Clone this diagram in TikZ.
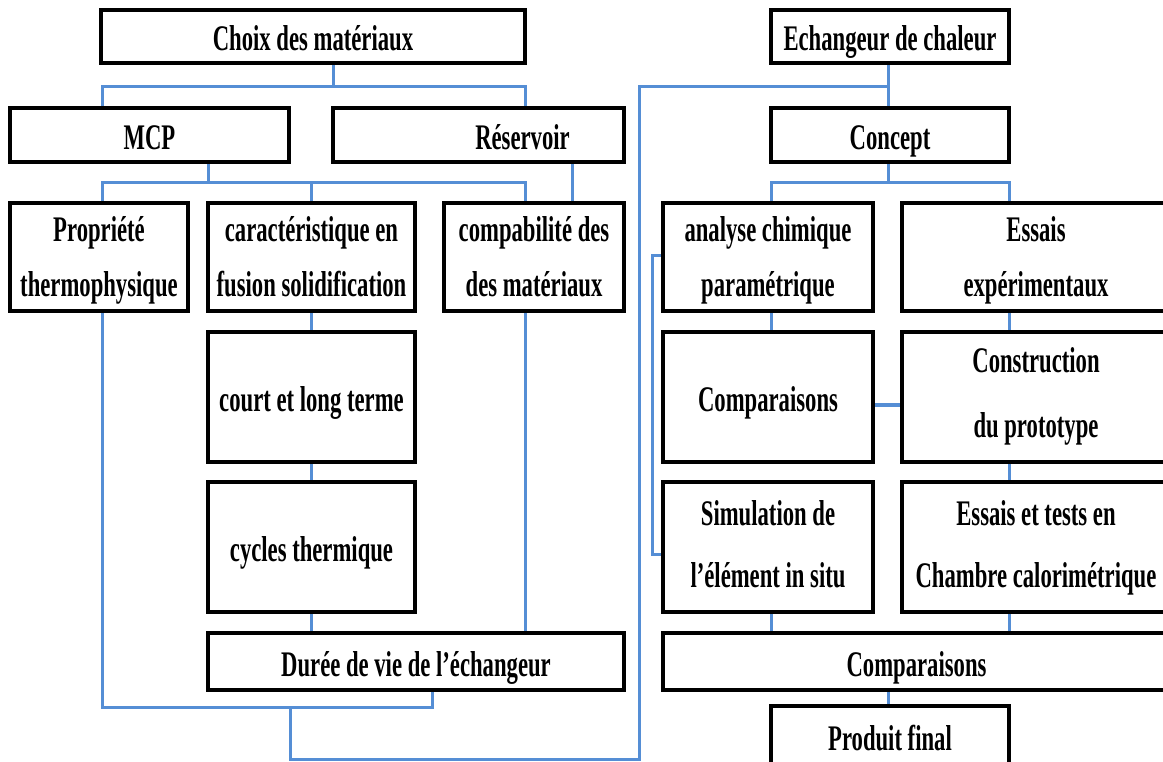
\documentclass[tikz,border=0pt]{standalone}
\usepackage{fontspec}
\setmainfont{Liberation Serif}[FakeStretch=0.63]
\usetikzlibrary{backgrounds}
\definecolor{linkblue}{RGB}{85,142,213}
\begin{document}
\begin{tikzpicture}[x=1pt,y=-1pt,
  box/.style={draw=black, line width=4pt, fill=white, align=center, inner sep=0pt,
    text height=29pt, text depth=0pt,
    font=\bfseries\fontsize{36}{55}\selectfont},
  twoline/.style={text height=80pt, text depth=0pt},
  link/.style={draw=linkblue, line width=3pt},
  thicklink/.style={draw=linkblue, line width=4pt},
]
\useasboundingbox (0,0) rectangle (1163,762);

% ---- top row
\node[box, minimum width=424pt, minimum height=53pt] (choix)  at (313,36.5) {Choix des matériaux};
\node[box, minimum width=238pt, minimum height=53pt] (echang) at (890,36.5) {Echangeur de chaleur};

% ---- second row
\node[box, minimum width=279pt, minimum height=54pt] (mcp)     at (149.5,135) {MCP};
\node[box, minimum width=291pt, minimum height=54pt] (reserv)  at (478.5,135) {\hspace*{88pt}Réservoir};
\node[box, minimum width=238pt, minimum height=54pt] (concept) at (890,135) {Concept};

% ---- third row
\node[box, twoline, minimum width=178pt, minimum height=108pt] (prop)    at (99,257)    {Propriété\\thermophysique};
\node[box, twoline, minimum width=207pt, minimum height=108pt] (carac)   at (311.5,257) {caractéristique en\\fusion solidification};
\node[box, twoline, minimum width=180pt, minimum height=108pt] (compab)  at (534,257)   {compabilité des\\des matériaux};
\node[box, twoline, minimum width=210pt, minimum height=108pt] (analyse) at (768,257)   {analyse chimique\\paramétrique};
\node[box, twoline, minimum width=268pt, minimum height=108pt] (essais)  at (1036,257)  {Essais\\expérimentaux};

% ---- fourth row
\node[box, minimum width=207pt, minimum height=130pt] (court)   at (311.5,397) {court et long terme};
\node[box, minimum width=210pt, minimum height=130pt] (compara) at (768,397)   {Comparaisons};
\node[box, twoline, minimum width=268pt, minimum height=130pt,
      font=\bfseries\fontsize{36}{65}\selectfont] (constr) at (1036,397) {Construction\\du prototype};

% ---- fifth row
\node[box, minimum width=207pt, minimum height=130pt] (cycles)  at (311.5,547) {cycles thermique};
\node[box, twoline, minimum width=210pt, minimum height=130pt,
      font=\bfseries\fontsize{36}{62}\selectfont] (simul) at (768,547) {Simulation de\\l'élément in situ};
\node[box, twoline, minimum width=268pt, minimum height=130pt,
      font=\bfseries\fontsize{36}{62}\selectfont] (tests) at (1036,547) {Essais et tests en\\Chambre calorimétrique};

% ---- bottom rows
\node[box, minimum width=416pt, minimum height=57pt] (duree)    at (416,661.5)   {Durée de vie de l'échangeur};
\node[box, minimum width=507pt, minimum height=57pt] (comparb)  at (916.5,661.5) {Comparaisons};
\node[box, minimum width=238pt, minimum height=69pt, text height=20pt] (produit) at (890,740) {Produit final};

% ---- bus points
\coordinate (t1L) at (102,87);
\coordinate (t1M) at (333,87);
\coordinate (t1R) at (525,87);
\coordinate (t2L) at (102,183);
\coordinate (t2M) at (208,183);
\coordinate (t2R) at (525,183);
\coordinate (rs)  at (572,183);
\coordinate (b1)  at (102,707);
\coordinate (b2)  at (432,707);
\coordinate (b3)  at (290,707);
\coordinate (b4)  at (290,759);
\coordinate (b5)  at (639,759);
\coordinate (b6)  at (639,87);
\coordinate (e1)  at (888,87);
\coordinate (r2L) at (771,183);
\coordinate (r2R) at (1009,183);
\coordinate (k1)  at (652,256);
\coordinate (k2)  at (652,554);
\coordinate (h1)  at (888,405);

\begin{scope}[on background layer]
  % materials tree
  \draw[link] (t1M |- choix.south) -- (t1M);
  \draw[link] (t1L |- mcp.north) -- (t1L) -- (t1R) -- (t1R |- reserv.north);
  \draw[link] (t2M |- mcp.south) -- (t2M);
  \draw[link] (t2L |- prop.north) -- (t2L) -- (t2R) -- (t2R |- compab.north);
  \draw[link] (carac.north) -- (carac.north |- t2L);
  \draw[link] (rs |- reserv.south) -- (rs |- compab.north);
  \draw[link] (carac.south) -- (court.north);
  \draw[link] (court.south) -- (cycles.north);
  \draw[link] (cycles.south) -- (duree.north -| cycles.south);
  \draw[link] (t2R |- compab.south) -- (t2R |- duree.north);
  \draw[link] (t2L |- prop.south) -- (b1) -- (b2) -- (b2 |- duree.south);
  % link between both trees
  \draw[link] (b3) -- (b4) -- (b5) -- (b6) -- (e1);
  % heat exchanger tree
  \draw[link] (e1 |- echang.south) -- (e1 |- concept.north);
  \draw[link] (e1 |- concept.south) -- (e1 |- r2L);
  \draw[link] (r2L |- analyse.north) -- (r2L) -- (r2R) -- (r2R |- essais.north);
  \draw[link] (r2L |- analyse.south) -- (r2L |- compara.north);
  \draw[link] (r2R |- essais.south) -- (r2R |- constr.north);
  \draw[link] (r2R |- constr.south) -- (r2R |- tests.north);
  \draw[link] (r2R |- tests.south) -- (r2R |- comparb.north);
  \draw[link] (r2L |- simul.south) -- (r2L |- comparb.north);
  \draw[thicklink] (h1 -| compara.east) -- (h1 -| constr.west);
  \draw[link] (k1 -| analyse.west) -- (k1) -- (k2) -- (k2 -| simul.west);
  \draw[link] (e1 |- comparb.south) -- (e1 |- produit.north);
\end{scope}
\end{tikzpicture}
\end{document}
